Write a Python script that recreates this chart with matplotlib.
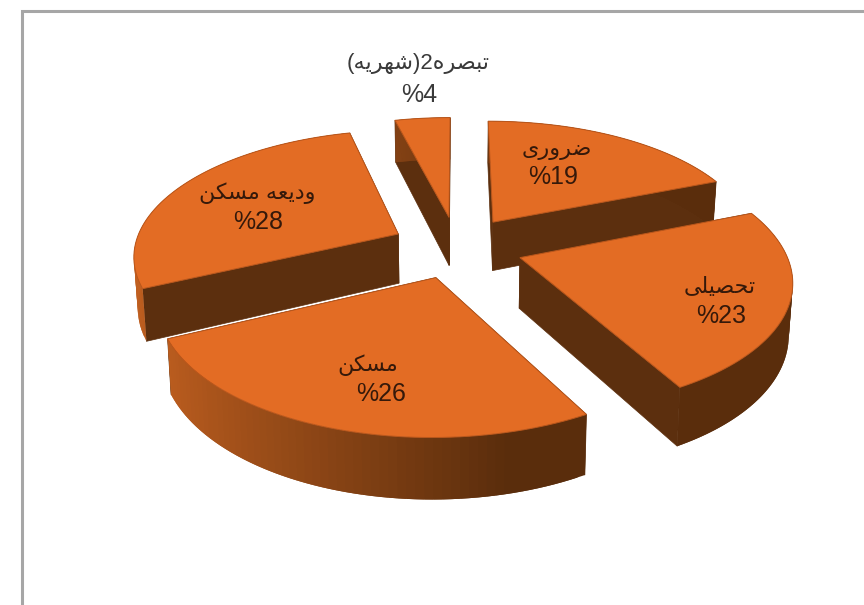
"""Exploded 3D-look pie of spending shares, with Persian labels."""

import unicodedata

import matplotlib
matplotlib.use("Agg")
import matplotlib.pyplot as plt
import numpy as np

# Clockwise from the top of the pie
names = ["ضروری", "تحصیلی", "مسکن", "ودیعه مسکن", "تبصره2(شهریه)"]
shares = [19, 23, 26, 28, 4]
pct_labels = ["%19", "%23", "%26", "%28", "%4"]

name_pos = [(557, 150), (720, 287), (368, 365), (257, 193), (418, 64)]
pct_pos = [(553, 177), (721, 316), (381, 394), (258, 222), (419, 95)]
draw_order = [4, 3, 0, 1, 2]  # far slices first

CX, CY = 457, 247
RX, RY = 264, 124
PERSP = 0.157
EXPLODE = 0.25
DEPTH = 50

TOP = "#E36C24"
WALL = "#5C2F0E"
RIM_LIGHT = np.array([0xC2, 0x60, 0x20]) / 255
RIM_DARK = np.array([0x5A, 0x2D, 0x0C]) / 255
INK = "#35190A"
FONTS = ["Liberation Sans", "DejaVu Sans"]

RIGHT_JOINING = set("ادذرزژو")


def is_letter(ch):
    return unicodedata.name(ch, "").startswith("ARABIC LETTER")


def shape(text):
    """Persian words to joined presentation forms in visual order."""
    out = []
    for word in text.split(" "):
        runs, run = [], []
        for i, ch in enumerate(word):
            if not is_letter(ch):
                runs.extend(["".join(reversed(run)), ch])
                run = []
                continue
            prev = word[i - 1] if i else " "
            nxt = word[i + 1] if i + 1 < len(word) else " "
            before = is_letter(prev) and prev not in RIGHT_JOINING
            after = is_letter(nxt) and ch not in RIGHT_JOINING
            form = {(0, 0): "ISOLATED", (0, 1): "INITIAL", (1, 0): "FINAL", (1, 1): "MEDIAL"}[(before, after)]
            run.append(unicodedata.lookup(f"{unicodedata.name(ch)} {form} FORM"))
        runs.append("".join(reversed(run)))
        out.append("".join(reversed(runs)))
    # brackets mirror once the run is flipped
    return " ".join(reversed(out)).translate(str.maketrans("()", ")("))


def project(u, v, drop=0.0):
    """Disc plane to picture pixels; nearer points are larger."""
    w = 1 + PERSP * v
    x = CX + RX * u / w
    y = CY - RY * v / w
    if drop:
        x = CX + (x - CX) * (1 - 0.012 * drop)
        y = y + DEPTH * drop / w
    return x, y


def draw_slice(ax, start, end):
    mid = (start + end) / 2
    off_u, off_v = EXPLODE * np.sin(mid), EXPLODE * np.cos(mid)
    t = np.linspace(start, end, 60)
    us = off_u + np.sin(t)
    vs = off_v + np.cos(t)

    tip = project(off_u, off_v)
    tip_low = project(off_u, off_v, 1)
    for u, v in ((us[0], vs[0]), (us[-1], vs[-1])):
        a, b = project(u, v), project(u, v, 1)
        ax.fill([tip[0], a[0], b[0], tip_low[0]], [tip[1], a[1], b[1], tip_low[1]],
                color=WALL, lw=0.5)

    # each rim strip overlaps the next one so no seams show
    for i in range(len(t) - 1):
        j = min(i + 2, len(t) - 1)
        a, b = project(us[i], vs[i]), project(us[j], vs[j])
        c, d = project(us[j], vs[j], 1), project(us[i], vs[i], 1)
        mix = np.clip((np.sin(t[i]) + 1.0) / 1.25, 0, 1)
        col = RIM_LIGHT * (1 - mix) + RIM_DARK * mix
        ax.fill([a[0], b[0], c[0], d[0]], [a[1], b[1], c[1], d[1]], facecolor=col, lw=0)

    x, y = project(us, vs)
    ax.fill(np.r_[tip[0], x], np.r_[tip[1], y], facecolor=TOP, edgecolor="#B9561B", lw=0.7)


fig = plt.figure(figsize=(8.64, 6.05), dpi=100)
ax = fig.add_axes([0, 0, 1, 1])
ax.set_xlim(0, 864)
ax.set_ylim(605, 0)
ax.axis("off")

ax.plot([22, 22, 864], [605, 11, 11], color="#A6A6A6", lw=2.2, solid_joinstyle="miter")

edges = np.cumsum([0] + shares) / sum(shares) * 2 * np.pi
for idx in draw_order:
    draw_slice(ax, edges[idx], edges[idx + 1])

for i, name in enumerate(names):
    color = "#3A3A3A" if i == 4 else INK
    ax.text(*name_pos[i], shape(name), ha="center", va="center", fontsize=16, color=color, family=FONTS)
    ax.text(*pct_pos[i], pct_labels[i], ha="center", va="center", fontsize=18, color=color, family=FONTS)

fig.savefig("out.png", dpi=100)
